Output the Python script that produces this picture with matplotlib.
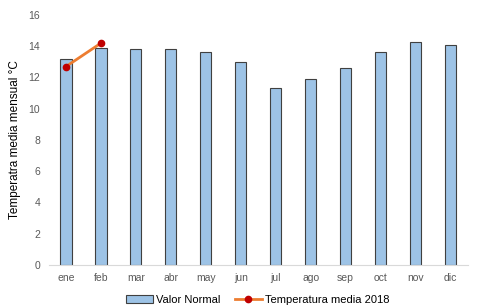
import matplotlib
matplotlib.use("Agg")
import matplotlib.pyplot as plt
from matplotlib.lines import Line2D
from matplotlib.patches import Patch

plt.rcParams['font.family'] = ['Liberation Sans', 'DejaVu Sans']

months = ["ene", "feb", "mar", "abr", "may", "jun", "jul", "ago", "sep", "oct", "nov", "dic"]
valor_normal = [13.2, 13.9, 13.8, 13.8, 13.6, 13.0, 11.3, 11.9, 12.6, 13.6, 14.3, 14.1]
temp_2018 = [12.7, 14.2]
yticks = [0, 2, 4, 6, 8, 10, 12, 14, 16]

fig = plt.figure(figsize=(4.9, 3.06), dpi=100)
ax = fig.add_axes([0.099, 0.134, 0.856, 0.817])

x = list(range(len(months)))
ax.bar(x, valor_normal, width=0.32, color="#9DC3E6", edgecolor="#404040", linewidth=0.8, zorder=2)
ax.plot(x[:len(temp_2018)], temp_2018, color="#ED7D31", linewidth=2, marker="o",
        markersize=4.5, markerfacecolor="#C00000", markeredgecolor="#C00000", zorder=3)

ax.set_xlim(-0.5, len(months) - 0.5)
ax.set_ylim(0, 16)
ax.set_yticks(yticks)
ax.set_xticks(x)
ax.set_xticklabels(months)
ax.tick_params(axis='both', length=0, labelsize=7.5, colors="#595959", pad=6)
for s in ["top", "right", "left"]:
    ax.spines[s].set_visible(False)
ax.spines["bottom"].set_color("#D9D9D9")
ax.set_ylabel("Temperatra media mensual °C", fontsize=8.5, color="#000000", labelpad=5)

handles = [Patch(facecolor="#9DC3E6", edgecolor="#404040", linewidth=0.8),
           Line2D([0], [0], color="#ED7D31", linewidth=2, marker="o", markersize=4.5,
                  markerfacecolor="#C00000", markeredgecolor="#C00000")]
fig.legend(handles, ["Valor Normal", "Temperatura media 2018"], loc="center",
           bbox_to_anchor=(0.526, 0.02), ncol=2, frameon=False, fontsize=8,
           handlelength=2.4, columnspacing=1.3, handletextpad=0.3)

fig.savefig("out.png", dpi=100)
